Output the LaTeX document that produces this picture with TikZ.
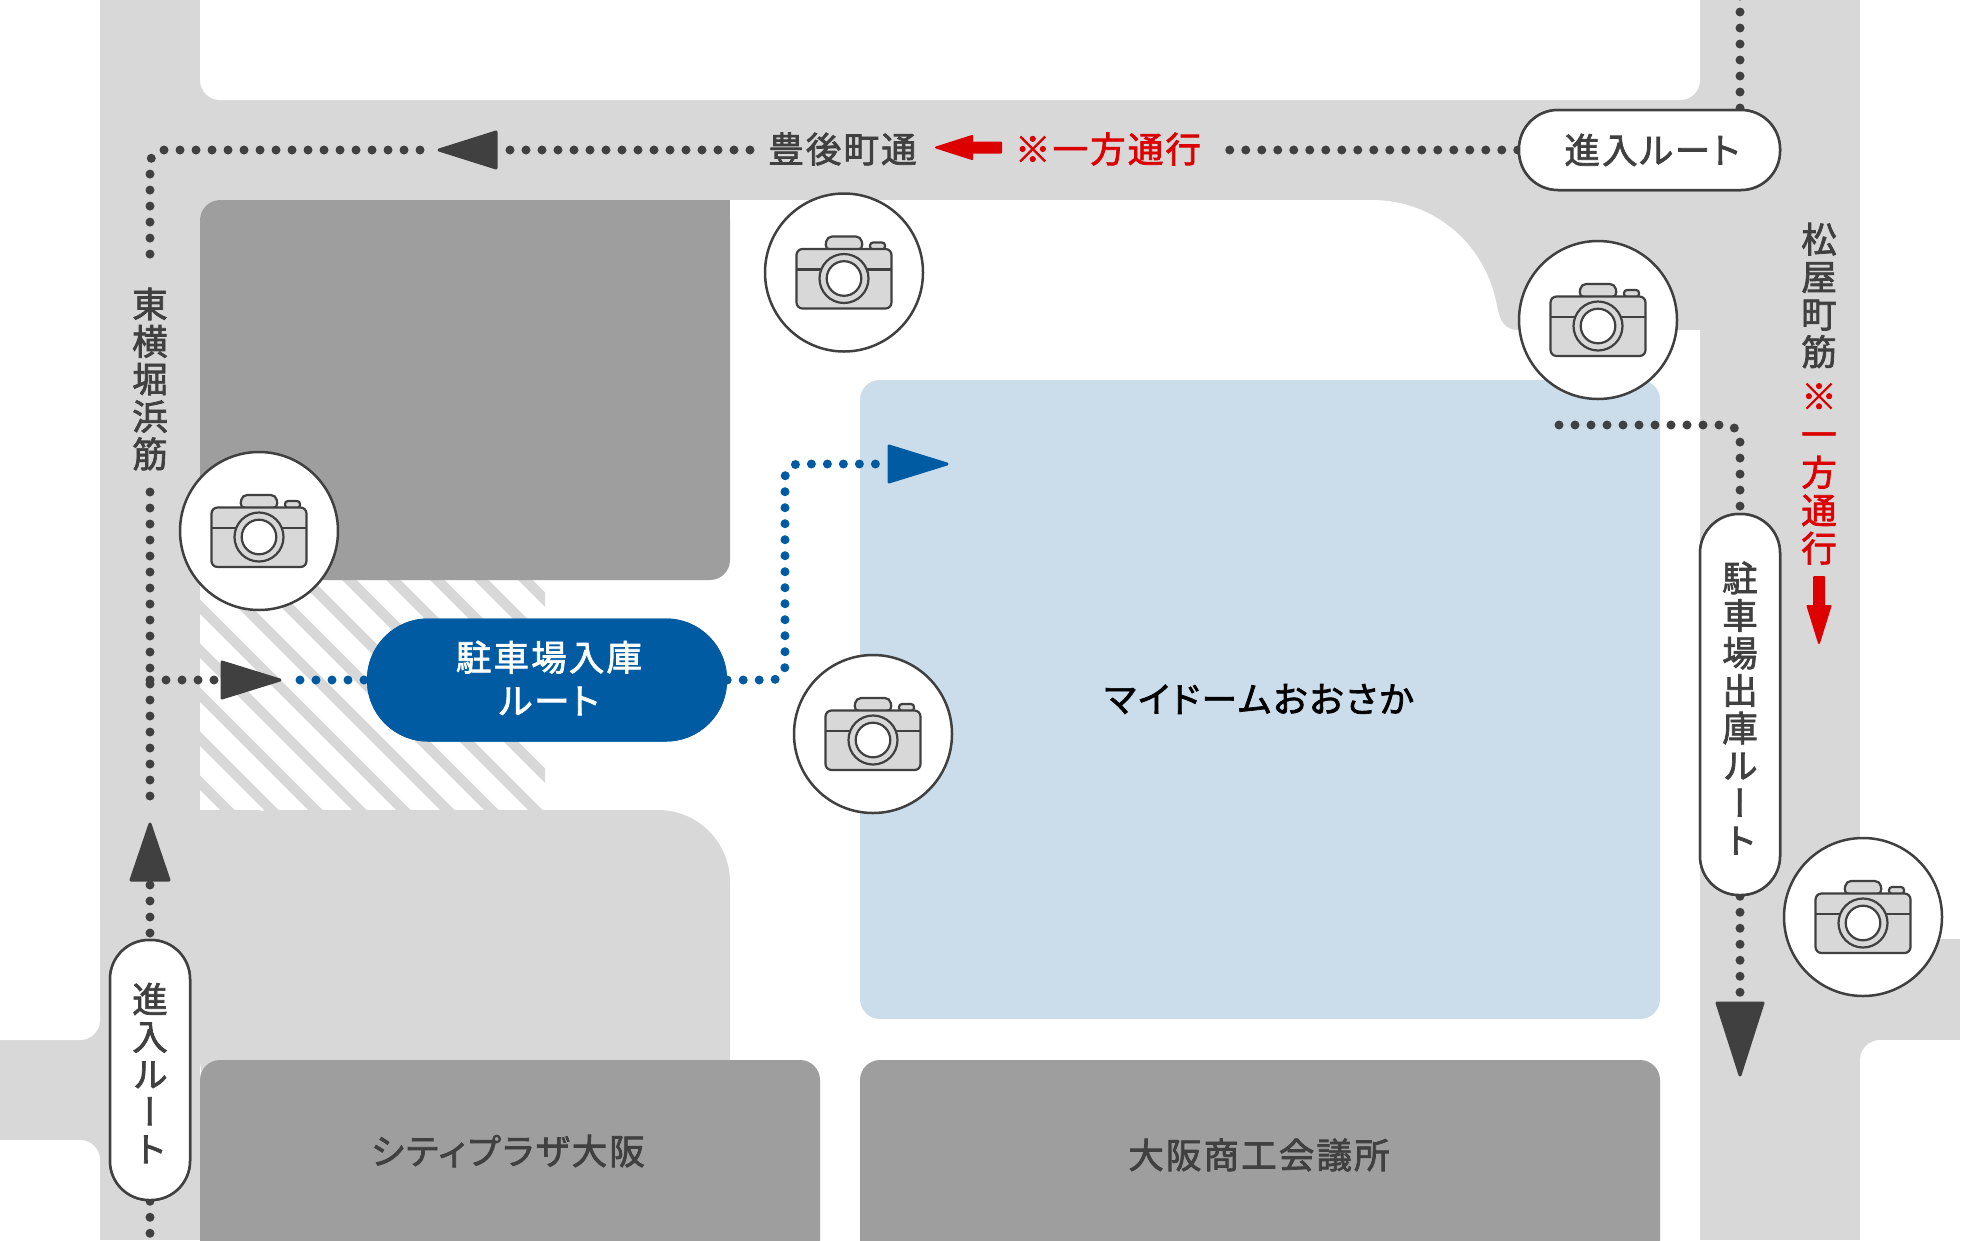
\documentclass[tikz,border=0pt]{standalone}
\usepackage{fontspec}
\setmainfont{Noto Sans CJK JP}
\newfontfamily\jp[RawFeature={+palt},LetterSpace=6,FakeBold=2]{Noto Sans CJK JP}
\newfontfamily\jpv[RawFeature={+vert},FakeBold=2]{Noto Sans CJK JP}
\definecolor{road}{HTML}{D8D8D8}
\definecolor{bldg}{HTML}{9E9E9E}
\definecolor{dome}{HTML}{CBDDEA}
\definecolor{dk}{HTML}{404040}
\definecolor{blu}{HTML}{005BA2}
\definecolor{rd}{HTML}{DD0000}
\tikzset{
  hlabel/.style={inner sep=0pt,text=dk,font=\jp\fontsize{35.5}{38}\selectfont,align=center},
  vlabel/.style={inner sep=0pt,text=dk,font=\jpv\fontsize{35.5}{37.5}\selectfont,align=center},
  pill/.style={rectangle,draw=dk,fill=white,line width=2.5pt,rounded corners=39pt,inner sep=0pt},
  dotdk/.style={draw=dk,line width=9pt,line cap=round,dash pattern=on 0pt off 16pt,rounded corners=14pt},
  dotbl/.style={dotdk,draw=blu},
  tridk/.style={fill=dk,draw=dk,line width=3pt,line join=round},
  tribl/.style={tridk,fill=blu,draw=blu},
  redarrow/.style={fill=rd,draw=rd,line width=2pt,line join=round},
  camcircle/.style={circle,draw=dk,fill=white,line width=2.5pt,minimum size=158pt,inner sep=0pt},
  pics/camera/.style={code={
    \begin{scope}[draw=dk,line width=2.2pt,fill=road]
      \filldraw[rounded corners=5pt] (-19,-23) -- (-17,-36) -- (17,-36) -- (19,-23) -- cycle;
      \filldraw[rounded corners=3pt] (26,-23) -- (26,-30) -- (41,-30) -- (41,-23) -- cycle;
      \filldraw[rounded corners=6pt] (-47.5,-23.5) rectangle (47.5,36);
      \draw (-47.5,-3) -- (47.5,-3);
      \filldraw (0,6) circle[radius=24.5];
      \filldraw[fill=white] (0,6) circle[radius=17.3];
    \end{scope}}}
}
\begin{document}
\begin{tikzpicture}[x=1pt,y=-1pt]
\useasboundingbox (0,0) rectangle (1961,1240);
\clip (0,0) rectangle (1961,1240);
% roads
\fill[road] (100,0) rectangle (1860,1240);
\fill[road] (0,1020) rectangle (120,1160);
\fill[road] (1840,939) rectangle (1960,1060);
\fill[white,rounded corners=20pt] (-60,900) rectangle (100,1040);
\fill[white,rounded corners=20pt] (-60,1140) rectangle (100,1300);
\fill[white,rounded corners=20pt] (1860,1040) rectangle (2020,1300);
% plots
\fill[white,rounded corners=20pt] (200,-60) rectangle (1700,100);
\fill[white] (200,220) .. controls (200,209) and (209,200) .. (220,200) -- (1372,200)
  .. controls (1435,200) and (1486,245) .. (1497,306)
  .. controls (1500,322) and (1505,330) .. (1518,330) -- (1700,330) -- (1700,1240) -- (200,1240) -- cycle;
% hatched forecourt
\begin{scope}
  \clip (200,580) rectangle (545,810);
  \foreach \k in {0,...,13}{
    \draw[road,line width=10.3pt] ({200-100},{582.6-44*\k+100}) -- ({200+700},{582.6-44*\k+900});
  }
\end{scope}
% light block
\fill[road,rounded corners=72pt] (200,810) rectangle (730,1130);
\fill[road] (200,810) rectangle (260,880);
% buildings
\fill[bldg,rounded corners=20pt] (200,200) rectangle (730,580);
\fill[bldg] (700,200) rectangle (730,230);
\fill[bldg] (200,550) rectangle (230,580);
\fill[dome,rounded corners=20pt] (860,380) rectangle (1660,1019);
\fill[bldg,rounded corners=20pt] (200,1060) rectangle (820,1300);
\fill[bldg,rounded corners=20pt] (860,1060) rectangle (1660,1300);

% named points on the routes
\coordinate (leftTop) at (150,263);
\coordinate (leftMid) at (150,492);
\coordinate (corner1) at (150,150);
\coordinate (branch) at (150,680);
\coordinate (a1tip) at (420,150);
\coordinate (a1base) at (500,150);
\coordinate (topEnd) at (750,150);
\coordinate (topStart) at (1222,150);
\coordinate (a2tip) at (150,805);
\coordinate (a2base) at (150,885);
\coordinate (a3base) at (221,680);
\coordinate (a3tip) at (300,680);
\coordinate (a4base) at (888,464);
\coordinate (bluecorner1) at (785,680);
\coordinate (bluecorner2) at (785,464);
\coordinate (exitStart) at (1559,425);
\coordinate (exitCorner) at (1740,425);
\coordinate (a5base) at (1740,1003);
\coordinate (rightTop) at (1740,-4);
\coordinate (leftBottom) at (150,1244);

% pills (positions first, so connectors can use them)
\node[pill,minimum width=80pt,minimum height=260pt] (pillLeft) at (150,1070) {};
\node[pill,minimum width=261pt,minimum height=80pt] (pillTop) at (1649.5,150) {};
\node[pill,minimum width=80pt,minimum height=381pt] (pillExit) at (1740,704.5) {};
\node[rectangle,fill=blu,rounded corners=61pt,minimum width=360pt,minimum height=123pt,inner sep=0pt] (pillBlue) at (547,680) {};

% dotted routes
\draw[dotdk] (pillTop.west) -- (topStart);
\draw[dotdk] (topEnd) -- (a1base);
\draw[dotdk] (a1tip) -- (corner1) -- (leftTop);
\draw[dotdk] (leftMid) -- (a2tip);
\draw[dotdk] (a2base) -- (pillLeft.north);
\draw[dotdk] (pillLeft.south) -- (leftBottom);
\draw[dotdk] (branch) -- (a3base);
\draw[dotbl] (a3tip) -- (pillBlue.west);
\draw[dotbl] (pillBlue.east) -- (bluecorner1) -- (bluecorner2) -- (a4base);
\draw[dotdk] (rightTop) -- (pillTop.north -| rightTop);
\draw[dotdk] (exitStart) -- (exitCorner) -- (pillExit.north);
\draw[dotdk] (pillExit.south) -- (a5base);

% redraw pills on top of the dots
\node[pill,minimum width=80pt,minimum height=260pt] at (pillLeft) {};
\node[pill,minimum width=261pt,minimum height=80pt] at (pillTop) {};
\node[pill,minimum width=80pt,minimum height=381pt] at (pillExit) {};
\node[rectangle,fill=blu,rounded corners=61pt,minimum width=360pt,minimum height=123pt,inner sep=0pt] at (pillBlue) {};

% arrowheads
\filldraw[tridk] (439,150) -- (496,132) -- (496,168) -- cycle;
\filldraw[tridk] (150,824) -- (131,880) -- (169,880) -- cycle;
\filldraw[tridk] (280,680) -- (222,662) -- (222,698) -- cycle;
\filldraw[tribl] (947,464) -- (889,446) -- (889,482) -- cycle;
\filldraw[tridk] (1740,1075) -- (1717,1003) -- (1763,1003) -- cycle;
% red arrows
\filldraw[redarrow] (936,147.5) -- (972,136) -- (972,142.5) -- (1001,142.5) -- (1001,152.5) -- (972,152.5) -- (972,159) -- cycle;
\filldraw[redarrow] (1819,643) -- (1807.5,606) -- (1814,606) -- (1814,577) -- (1824,577) -- (1824,606) -- (1830.5,606) -- cycle;

% labels
\node[hlabel] (tToyo) at (842.5,149) {豊後町通};
\node[hlabel,text=rd] (tOneH) at (1108,149) {※一方通行};
\node[hlabel] (tIn2) at (1652,150) {進入ルート};
\node[vlabel] (tHiga) at (150,379) {東\\横\\堀\\浜\\筋};
\node[vlabel] (tMatsu) at (1819,295.5) {松\\屋\\町\\筋};
\node[vlabel,text=rd,font=\jpv\fontsize{35.5}{38}\selectfont] (tOneV) at (1819,474) {※\\一\\方\\通\\行};
\node[vlabel] (tIn1) at (150,1073) {進\\入\\ル\\ー\\ト};
\node[vlabel] (tOut) at (1740,708) {駐\\車\\場\\出\\庫\\ル\\ー\\ト};
\node[hlabel,text=white,font=\jp\fontsize{35.5}{43.5}\selectfont] (tBlue) at (549,678) {駐車場入庫\\ルート};
\node[hlabel,text=black] (tDome) at (1259,699) {マイドームおおさか};
\node[hlabel] (tCity) at (508,1151) {シティプラザ大阪};
\node[hlabel] (tChamber) at (1259,1155) {大阪商工会議所};

% cameras
\foreach \n/\cx/\cy in {camA/844/272.5, camB/259/531, camC/873/734, camD/1598/320, camE/1863/917}{
  \node[camcircle] (\n) at (\cx,\cy) {};
  \pic at (\n) {camera};
}
\end{tikzpicture}
\end{document}
